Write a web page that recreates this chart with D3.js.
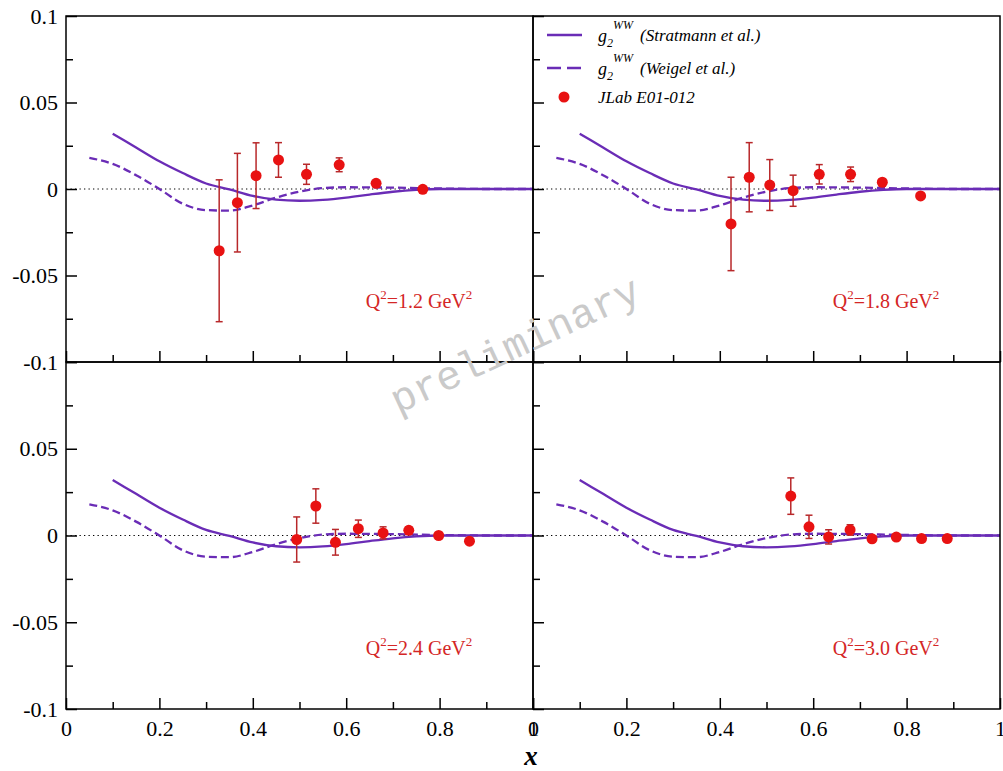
<!DOCTYPE html>
<html>
<head>
<meta charset="utf-8">
<script src="https://cdn.jsdelivr.net/npm/d3@7"></script>
<style>
  html, body { margin: 0; padding: 0; background: #fff; }
  svg { display: block; }
  .serif { font-family: "Liberation Serif", "Times New Roman", "DejaVu Serif", serif; }
  .mono { font-family: "Liberation Mono", "Courier New", "DejaVu Sans Mono", monospace; }
</style>
</head>
<body>
<svg id="chart" width="1003" height="771"></svg>
<script>
// ---------------- data ----------------
const q2Labels = ["1.2", "1.8", "2.4", "3.0"];

// g2 WW curves (Stratmann et al.) and (Weigel et al.)
const stratX = [0.10, 0.15, 0.20, 0.25, 0.30, 0.35, 0.40, 0.45, 0.50, 0.55, 0.60, 0.65, 0.70, 0.75, 0.80, 0.90, 1.00];
const stratY = [0.032, 0.024, 0.016, 0.0092, 0.0032, -0.0002, -0.0040, -0.0062, -0.0068, -0.0063, -0.0050, -0.0032, -0.0016, -0.0005, 0.0, 0.0, 0.0];
const weigelX = [0.05, 0.10, 0.15, 0.20, 0.25, 0.30, 0.35, 0.40, 0.45, 0.50, 0.55, 0.60, 0.70, 0.80, 0.90, 1.00];
const weigelY = [0.018, 0.0145, 0.008, 0.0, -0.0085, -0.0122, -0.0125, -0.0095, -0.0050, -0.0015, 0.0005, 0.0010, 0.0008, 0.0003, 0.0, 0.0];

// JLab E01-012 data: x, g2, error
const q12X   = [0.328, 0.367, 0.407, 0.455, 0.515, 0.585, 0.664, 0.764];
const q12Y   = [-0.0357, -0.0079, 0.0077, 0.0168, 0.0085, 0.0140, 0.0033, -0.0002];
const q12Err = [0.0410, 0.0285, 0.0190, 0.0100, 0.0058, 0.0040, 0.0012, 0.0008];

const q18X   = [0.424, 0.463, 0.507, 0.557, 0.613, 0.680, 0.748, 0.830];
const q18Y   = [-0.0202, 0.0068, 0.0023, -0.0010, 0.0085, 0.0085, 0.0039, -0.0040];
const q18Err = [0.0270, 0.0200, 0.0147, 0.0090, 0.0056, 0.0042, 0.0020, 0.0010];

const q24X   = [0.494, 0.535, 0.577, 0.626, 0.679, 0.734, 0.798, 0.864];
const q24Y   = [-0.0023, 0.0170, -0.0039, 0.0039, 0.0015, 0.0030, 0.0000, -0.0033];
const q24Err = [0.0130, 0.0099, 0.0074, 0.0050, 0.0035, 0.0020, 0.0010, 0.0008];

const q30X   = [0.552, 0.591, 0.633, 0.679, 0.726, 0.778, 0.832, 0.887];
const q30Y   = [0.0227, 0.0050, -0.0008, 0.0032, -0.0019, -0.0009, -0.0018, -0.0018];
const q30Err = [0.0105, 0.0067, 0.0041, 0.0030, 0.0012, 0.0010, 0.0008, 0.0008];

const xMajor = [0, 0.2, 0.4, 0.6, 0.8, 1.0];
const xMinor = [0.1, 0.3, 0.5, 0.7, 0.9];
const yMajor = [-0.1, -0.05, 0, 0.05, 0.1];
const yMinor = [-0.075, -0.025, 0.025, 0.075];
const topYLabels = ["-0.1", "-0.05", "0", "0.05", "0.1"];
const botYLabels = ["-0.1", "-0.05", "0", "0.05", ""];
const xLabels = ["0", "0.2", "0.4", "0.6", "0.8", "1"];

const legendItems = ["(Stratmann et al.)", "(Weigel et al.)", "JLab E01-012"];

// ---------------- drawing ----------------
const svg = d3.select("#chart");
svg.append("rect").attr("width", 1003).attr("height", 771).attr("fill", "#fff");

const COL_CURVE = "#6a2cb6";
const COL_PT = "#e81212";
const COL_ERR = "#b8282a";
const COL_TXT = "#d42626";

const colX = [[66, 533], [533, 1000]];
const rowY = [[16, 362], [362, 709]];

const panelData = [
  [q12X, q12Y, q12Err],
  [q18X, q18Y, q18Err],
  [q24X, q24Y, q24Err],
  [q30X, q30Y, q30Err]
];

panelData.forEach((pd, i) => {
  const c = i % 2, r = Math.floor(i / 2);
  const x = d3.scaleLinear().domain([0, 1]).range(colX[c]);
  const y = d3.scaleLinear().domain([-0.1, 0.1]).range([rowY[r][1], rowY[r][0]]);
  const g = svg.append("g");

  // zero dotted line
  g.append("line")
    .attr("x1", x(0)).attr("x2", x(1)).attr("y1", y(0)).attr("y2", y(0))
    .attr("stroke", "#000").attr("stroke-width", 1.2).attr("stroke-dasharray", "1.3,3.2");

  const line = d3.line().x(d => x(d[0])).y(d => y(d[1])).curve(d3.curveMonotoneX);
  g.append("path")
    .datum(stratX.map((v, k) => [v, stratY[k]]))
    .attr("d", line).attr("fill", "none").attr("stroke", COL_CURVE).attr("stroke-width", 2.3);
  g.append("path")
    .datum(weigelX.map((v, k) => [v, weigelY[k]]))
    .attr("d", line).attr("fill", "none").attr("stroke", COL_CURVE).attr("stroke-width", 2.3)
    .attr("stroke-dasharray", "8,4");

  // error bars
  const [px, py, pe] = pd;
  const pts = px.map((v, k) => ({ x: v, y: py[k], e: pe[k] }));
  const eb = g.append("g").attr("stroke", COL_ERR).attr("stroke-width", 1.5);
  eb.selectAll("line.v").data(pts).join("line")
    .attr("x1", d => x(d.x)).attr("x2", d => x(d.x))
    .attr("y1", d => y(d.y + d.e)).attr("y2", d => y(d.y - d.e));
  eb.selectAll("line.t").data(pts).join("line")
    .attr("x1", d => x(d.x) - 3.5).attr("x2", d => x(d.x) + 3.5)
    .attr("y1", d => y(d.y + d.e)).attr("y2", d => y(d.y + d.e));
  eb.selectAll("line.b").data(pts).join("line")
    .attr("x1", d => x(d.x) - 3.5).attr("x2", d => x(d.x) + 3.5)
    .attr("y1", d => y(d.y - d.e)).attr("y2", d => y(d.y - d.e));
  g.selectAll("circle").data(pts).join("circle")
    .attr("cx", d => x(d.x)).attr("cy", d => y(d.y)).attr("r", 5.5)
    .attr("fill", COL_PT);

  // Q2 label
  const t = g.append("text").attr("class", "serif")
    .attr("x", x(0.642)).attr("y", y(-0.069))
    .attr("font-size", 20).attr("fill", COL_TXT);
  t.append("tspan").text("Q");
  t.append("tspan").attr("dy", -9).attr("font-size", 13).text("2");
  t.append("tspan").attr("dy", 9).text("=" + q2Labels[i] + " GeV");
  t.append("tspan").attr("dy", -9).attr("font-size", 13).text("2");

  // axes (ticks inward)
  const bottomMaj = d3.axisBottom(x).tickValues(xMajor).tickSizeInner(-11).tickSizeOuter(0)
    .tickFormat((d, k) => r === 1 ? xLabels[k] : "").tickPadding(11);
  const bottomMin = d3.axisBottom(x).tickValues(xMinor).tickSizeInner(-7).tickSizeOuter(0).tickFormat("");
  const ylabs = r === 0 ? topYLabels : botYLabels;
  const leftMaj = d3.axisLeft(y).tickValues(yMajor).tickSizeInner(-11).tickSizeOuter(0)
    .tickFormat((d, k) => c === 0 ? ylabs[k] : "").tickPadding(8);
  const leftMin = d3.axisLeft(y).tickValues(yMinor).tickSizeInner(-7).tickSizeOuter(0).tickFormat("");

  [[bottomMaj, "b"], [bottomMin, "b"], [leftMaj, "l"], [leftMin, "l"]].forEach(([ax, side]) => {
    const a = g.append("g")
      .attr("transform", side === "b" ? `translate(0,${rowY[r][1]})` : `translate(${colX[c][0]},0)`)
      .call(ax)
      .attr("font-family", null).attr("font-size", null);
    a.select(".domain").remove();
    a.selectAll("line").attr("stroke", "#000").attr("stroke-width", 1.5);
    a.selectAll("text").attr("class", "serif").attr("font-size", 22).attr("fill", "#000");
  });

  // frame
  g.append("rect")
    .attr("x", colX[c][0]).attr("y", rowY[r][0])
    .attr("width", colX[c][1] - colX[c][0]).attr("height", rowY[r][1] - rowY[r][0])
    .attr("fill", "none").attr("stroke", "#000").attr("stroke-width", 1.5);

  // legend in top-right panel
  if (i === 1) {
    const lg = g.append("g");
    const rowsY = [35, 68, 97];
    lg.append("line").attr("x1", 547).attr("x2", 582).attr("y1", rowsY[0]).attr("y2", rowsY[0])
      .attr("stroke", COL_CURVE).attr("stroke-width", 2.5);
    lg.append("line").attr("x1", 547).attr("x2", 582).attr("y1", rowsY[1]).attr("y2", rowsY[1])
      .attr("stroke", COL_CURVE).attr("stroke-width", 2.5).attr("stroke-dasharray", "14,6");
    lg.append("circle").attr("cx", 564).attr("cy", rowsY[2]).attr("r", 5.5).attr("fill", COL_PT);
    [0, 1].forEach(k => {
      const tt = lg.append("text").attr("class", "serif").attr("x", 598).attr("y", rowsY[k] + 7)
        .attr("font-style", "italic").attr("font-size", 18).attr("fill", "#000");
      tt.append("tspan").text("g");
      tt.append("tspan").attr("dy", 5).attr("font-size", 12).text("2");
      tt.append("tspan").attr("dy", -18).attr("font-size", 12).text("WW");
      lg.append("text").attr("class", "serif").attr("x", 640).attr("y", rowsY[k] + 6)
        .attr("font-style", "italic").attr("font-size", 17).attr("fill", "#000")
        .text(legendItems[k]);
    });
    lg.append("text").attr("class", "serif").attr("x", 598).attr("y", rowsY[2] + 6)
      .attr("font-style", "italic").attr("font-size", 17).attr("fill", "#000")
      .text(legendItems[2]);
  }
});

// x axis title
svg.append("text").attr("class", "serif").attr("x", 531).attr("y", 765).attr("text-anchor", "middle")
  .attr("font-style", "italic").attr("font-weight", "bold")
  .attr("font-size", 27).text("x");

// watermark
svg.append("text").attr("class", "mono")
  .attr("transform", "translate(398,414) rotate(-25)")
  .attr("font-size", 41).attr("fill", "#cacaca")
  .text("preliminary");
</script>
</body>
</html>
